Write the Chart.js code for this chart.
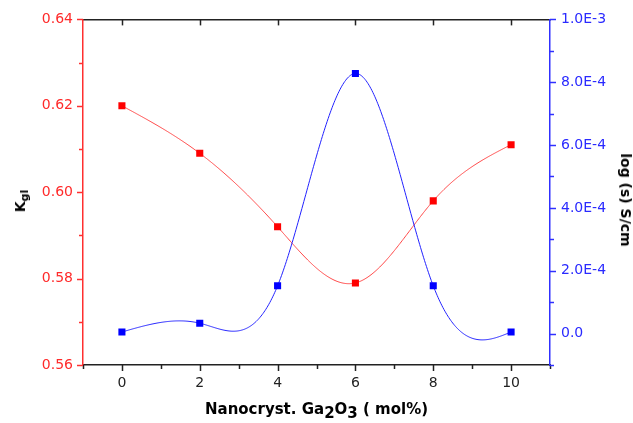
<!DOCTYPE html>
<html>
<head>
<meta charset="utf-8">
<script src="https://cdn.jsdelivr.net/npm/chart.js@4.4.0/dist/chart.umd.min.js"></script>
<style>
    html, body { margin: 0; padding: 0; background: #fff; }
    #wrap { position: relative; width: 633px; height: 423px; font-family: "DejaVu Sans", Verdana, sans-serif; }
    #chart { position: absolute; left: 0; top: 0; }
    .title { position: absolute; font-weight: bold; font-size: 14px; color: #000; white-space: nowrap; line-height: 16px; }
    #xtitle { left: 83px; width: 467px; top: 401px; text-align: center; font-size: 15px; }
    #xtitle sub { font-size: 15px; vertical-align: -4px; line-height: 0; }
    #ytitle { left: 20px; top: 201px; transform: translate(-50%, -50%) rotate(-90deg); }
    #ytitle sub { font-size: 11px; vertical-align: -3px; line-height: 0; }
    #y1title { left: 626px; top: 200px; transform: translate(-50%, -50%) rotate(90deg); }
</style>
</head>
<body>
<div id="wrap">
    <canvas id="chart" width="633" height="423"></canvas>
    <div class="title" id="xtitle">Nanocryst. Ga<sub>2</sub>O<sub>3</sub> ( mol%)</div>
    <div class="title" id="ytitle">K<sub>gl</sub></div>
    <div class="title" id="y1title">log (s) S/cm</div>
</div>
<script>
// data
const xValues = [0, 2, 4, 6, 8, 10];
const kglValues = [0.620, 0.609, 0.592, 0.579, 0.598, 0.611];
const condValues = [0.05e-4, 0.33e-4, 1.52e-4, 8.28e-4, 1.52e-4, 0.05e-4];

// axis ticks
const xTicks = [0, 2, 4, 6, 8, 10];
const xMinorTicks = [-1, 1, 3, 5, 7, 9, 11];
const kglTicks = [0.56, 0.58, 0.60, 0.62, 0.64];
const kglTickLabels = ['0.56', '0.58', '0.60', '0.62', '0.64'];
const kglMinorTicks = [0.57, 0.59, 0.61, 0.63];
const condTicks = [0, 2e-4, 4e-4, 6e-4, 8e-4, 1e-3];
const condTickLabels = ['0.0', '2.0E-4', '4.0E-4', '6.0E-4', '8.0E-4', '1.0E-3'];
const condMinorTicks = [-1e-4, 1e-4, 3e-4, 5e-4, 7e-4, 9e-4];

const RED = '#ff0000';
const BLUE = '#0000ff';

// natural cubic spline through the points (like Origin's spline connection)
function naturalSpline(xs, ys) {
    const n = xs.length;
    const h = [];
    for (let i = 0; i < n - 1; i++) h.push(xs[i + 1] - xs[i]);
    const l = new Array(n).fill(1), mu = new Array(n).fill(0), z = new Array(n).fill(0);
    for (let i = 1; i < n - 1; i++) {
        const a = 3 / h[i] * (ys[i + 1] - ys[i]) - 3 / h[i - 1] * (ys[i] - ys[i - 1]);
        l[i] = 2 * (xs[i + 1] - xs[i - 1]) - h[i - 1] * mu[i - 1];
        mu[i] = h[i] / l[i];
        z[i] = (a - h[i - 1] * z[i - 1]) / l[i];
    }
    const c = new Array(n).fill(0), b = [], d = [];
    for (let j = n - 2; j >= 0; j--) {
        c[j] = z[j] - mu[j] * c[j + 1];
        b[j] = (ys[j + 1] - ys[j]) / h[j] - h[j] * (c[j + 1] + 2 * c[j]) / 3;
        d[j] = (c[j + 1] - c[j]) / (3 * h[j]);
    }
    return (x) => {
        let j = 0;
        while (j < n - 2 && x > xs[j + 1]) j++;
        const dx = x - xs[j];
        return ys[j] + b[j] * dx + c[j] * dx * dx + d[j] * dx * dx * dx;
    };
}

const splinePlugin = {
    id: 'spline',
    beforeDatasetsDraw(chart) {
        const ctx = chart.ctx;
        const area = chart.chartArea;
        ctx.save();
        ctx.beginPath();
        ctx.rect(area.left, area.top, area.right - area.left, area.bottom - area.top);
        ctx.clip();
        chart.data.datasets.forEach(ds => {
            const xs = ds.data.map(p => p.x);
            const ys = ds.data.map(p => p.y);
            const f = naturalSpline(xs, ys);
            const xScale = chart.scales.x;
            const yScale = chart.scales[ds.yAxisID];
            ctx.beginPath();
            const steps = 400;
            for (let k = 0; k <= steps; k++) {
                const xv = xs[0] + (xs[xs.length - 1] - xs[0]) * k / steps;
                const px = xScale.getPixelForValue(xv);
                const py = yScale.getPixelForValue(f(xv));
                if (k === 0) ctx.moveTo(px, py); else ctx.lineTo(px, py);
            }
            ctx.strokeStyle = ds.splineColor;
            ctx.lineWidth = 1;
            ctx.stroke();
        });
        ctx.restore();
    }
};

// Origin-style tick marks: majors longer, minors shorter
const tickPlugin = {
    id: 'ticks',
    afterDraw(chart) {
        const ctx = chart.ctx;
        const area = chart.chartArea;
        const sx = chart.scales.x, sy = chart.scales.y, sy1 = chart.scales.y1;
        ctx.save();
        ctx.lineWidth = 1.5;
        const line = (x1, y1, x2, y2, color) => {
            ctx.strokeStyle = color;
            ctx.beginPath();
            ctx.moveTo(x1, y1);
            ctx.lineTo(x2, y2);
            ctx.stroke();
        };
        xTicks.forEach(v => {
            const px = Math.round(sx.getPixelForValue(v)) + 0.5;
            line(px, area.bottom, px, area.bottom + 6, '#222');
            line(px, area.top, px, area.top + 6, '#222');
        });
        xMinorTicks.forEach(v => {
            const px = Math.round(sx.getPixelForValue(v)) + 0.5;
            line(px, area.bottom, px, area.bottom + 4, '#222');
        });
        kglTicks.forEach(v => {
            const py = Math.round(sy.getPixelForValue(v)) + 0.5;
            line(area.left, py, area.left - 6, py, '#ff3030');
        });
        kglMinorTicks.forEach(v => {
            const py = Math.round(sy.getPixelForValue(v)) + 0.5;
            line(area.left, py, area.left - 4, py, '#ff3030');
        });
        condTicks.forEach(v => {
            const py = Math.round(sy1.getPixelForValue(v)) + 0.5;
            line(area.right, py, area.right + 6, py, '#3030ff');
        });
        condMinorTicks.forEach(v => {
            const py = Math.round(sy1.getPixelForValue(v)) + 0.5;
            line(area.right, py, area.right + 4, py, '#3030ff');
        });
        ctx.restore();
    }
};

const tickFont = { family: '"DejaVu Sans", Verdana, sans-serif', size: 14 };

new Chart(document.getElementById('chart'), {
    type: 'scatter',
    data: {
        datasets: [
            {
                label: 'Kgl',
                data: xValues.map((x, i) => ({ x: x, y: kglValues[i] })),
                yAxisID: 'y',
                showLine: false,
                pointStyle: 'rect',
                pointRadius: 5,
                pointBorderWidth: 0,
                pointBackgroundColor: RED,
                splineColor: '#ff4444'
            },
            {
                label: 'log (s) S/cm',
                data: xValues.map((x, i) => ({ x: x, y: condValues[i] })),
                yAxisID: 'y1',
                showLine: false,
                pointStyle: 'rect',
                pointRadius: 5,
                pointBorderWidth: 0,
                pointBackgroundColor: BLUE,
                splineColor: '#2222ff'
            }
        ]
    },
    options: {
        responsive: false,
        animation: false,
        layout: { padding: 0 },
        plugins: {
            legend: { display: false },
            tooltip: { enabled: false }
        },
        scales: {
            x: {
                type: 'linear',
                position: 'bottom',
                min: -1,
                max: 11,
                afterFit: (scale) => { scale.height = 58; },
                afterBuildTicks: (scale) => { scale.ticks = xTicks.map(v => ({ value: v })); },
                ticks: { color: '#222', font: tickFont, padding: 10 },
                grid: { drawOnChartArea: false, drawTicks: false },
                border: { color: '#222', width: 1.5 }
            },
            x2: {
                type: 'linear',
                position: 'top',
                min: -1,
                max: 11,
                afterFit: (scale) => { scale.height = 17; },
                ticks: { display: false },
                grid: { drawOnChartArea: false, drawTicks: false },
                border: { color: '#222', width: 1.5 }
            },
            y: {
                type: 'linear',
                position: 'left',
                min: 0.56,
                max: 0.64,
                afterFit: (scale) => { scale.width = 83; },
                afterBuildTicks: (scale) => { scale.ticks = kglTicks.map(v => ({ value: v })); },
                ticks: {
                    color: '#ff2a2a',
                    font: tickFont,
                    padding: 10,
                    callback: (v) => kglTickLabels[kglTicks.findIndex(t => Math.abs(t - v) < 1e-9)]
                },
                grid: { drawOnChartArea: false, drawTicks: false },
                border: { color: '#ff3030', width: 1.5 }
            },
            y1: {
                type: 'linear',
                position: 'right',
                min: -1e-4,
                max: 1e-3,
                afterFit: (scale) => { scale.width = 83; },
                afterBuildTicks: (scale) => { scale.ticks = condTicks.map(v => ({ value: v })); },
                ticks: {
                    color: '#2a2aff',
                    font: tickFont,
                    padding: 11,
                    callback: (v) => condTickLabels[condTicks.findIndex(t => Math.abs(t - v) < 1e-12)]
                },
                grid: { drawOnChartArea: false, drawTicks: false },
                border: { color: '#3030ff', width: 1.5 }
            }
        }
    },
    plugins: [splinePlugin, tickPlugin]
});
</script>
</body>
</html>
